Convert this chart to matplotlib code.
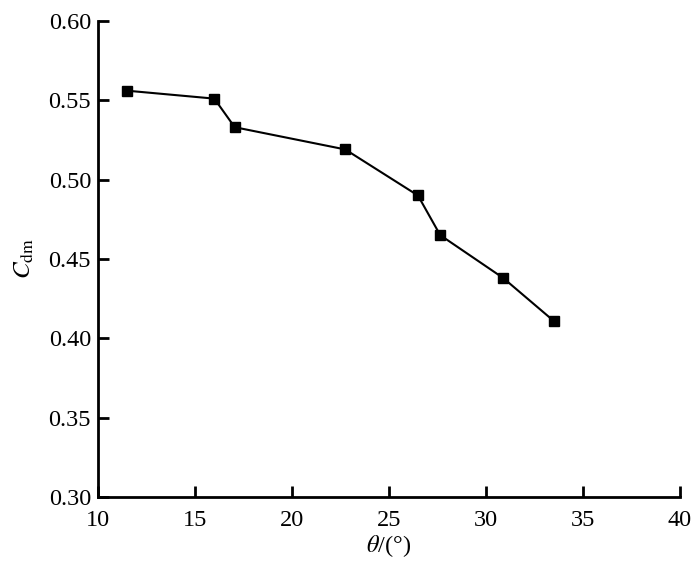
import matplotlib
matplotlib.use("Agg")
import matplotlib.pyplot as plt

# data
theta = [11.5, 16.0, 17.05, 22.75, 26.5, 27.65, 30.9, 33.5]
cdm = [0.556, 0.551, 0.533, 0.519, 0.490, 0.465, 0.438, 0.411]
x_ticks = [10, 15, 20, 25, 30, 35, 40]
y_ticks = [0.30, 0.35, 0.40, 0.45, 0.50, 0.55, 0.60]

plt.rcParams["font.family"] = ["Liberation Serif", "DejaVu Serif"]
plt.rcParams["mathtext.fontset"] = "stix"

fig = plt.figure(figsize=(7.0, 5.63), dpi=100)
ax = fig.add_axes([0.14, 0.117, 0.831, 0.846])

ax.plot(theta, cdm, color="black", linewidth=1.5, marker="s",
        markersize=7.8, markerfacecolor="black", markeredgecolor="black")

ax.set_xlim(10, 40)
ax.set_ylim(0.30, 0.60)
ax.set_xticks(x_ticks)
ax.set_yticks(y_ticks)
ax.set_yticklabels([f"{v:.2f}" for v in y_ticks])

for side in ["top", "right"]:
    ax.spines[side].set_visible(False)
for side in ["left", "bottom"]:
    ax.spines[side].set_linewidth(2)

ax.tick_params(direction="in", length=8, width=2, labelsize=17.5, pad=5)
ax.tick_params(axis="x", pad=9)

ax.set_xlabel(r"$\theta$/(°)", fontsize=17.5, labelpad=2)
ax.set_ylabel(r"$C_{\rm dm}$", fontsize=18, labelpad=9)

fig.savefig("out.png", dpi=100)
